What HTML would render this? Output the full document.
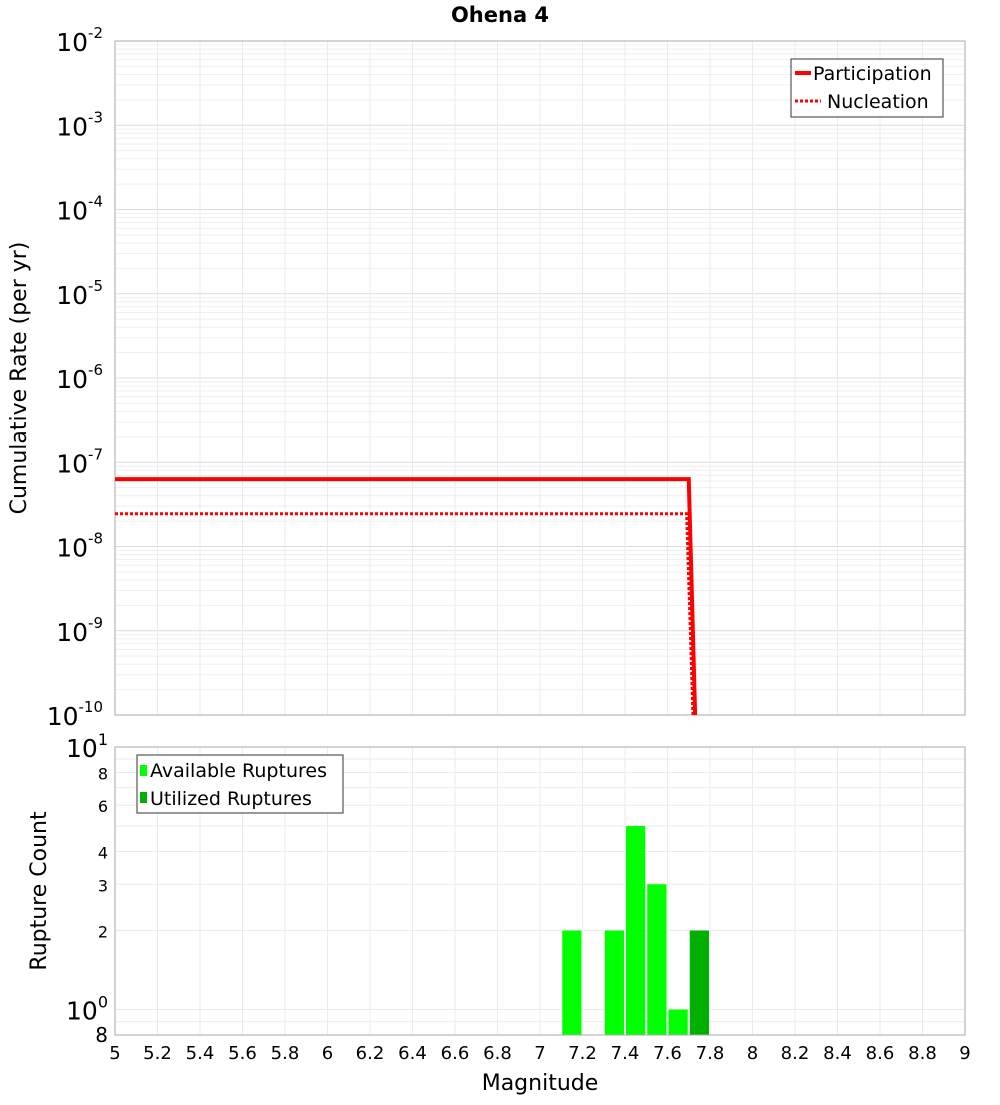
<!DOCTYPE html>
<html><head><meta charset="utf-8"><style>body{margin:0;background:#fff}svg{font-family:"DejaVu Sans","Liberation Sans",sans-serif}</style></head>
<body>
<svg id="c" width="1000" height="1100" xmlns="http://www.w3.org/2000/svg"></svg>
<script>
const xTicks=[5,5.2,5.4,5.6,5.8,6,6.2,6.4,6.6,6.8,7,7.2,7.4,7.6,7.8,8,8.2,8.4,8.6,8.8,9];
const topExp=[-2,-3,-4,-5,-6,-7,-8,-9,-10];
const partMags=[5,7.70,7.73];
const partRates=[6.3e-8,6.3e-8,1e-10];
const nuclMags=[5,7.69,7.72];
const nuclRates=[2.45e-8,2.45e-8,1e-10];
const barMags=[7.15,7.35,7.45,7.55,7.65,7.75];
const barCounts=[2,2,5,3,1,2];
const barUtil=[false,false,false,false,false,true];
const botTicks=[0.8,1,2,3,4,6,8,10];
const NS='http://www.w3.org/2000/svg',svg=document.getElementById('c');
function el(t,a,p){const e=document.createElementNS(NS,t);for(const k in a)e.setAttribute(k,a[k]);(p||svg).appendChild(e);return e;}
const X0=115,X1=965;const xs=m=>X0+(m-5)/4*(X1-X0);
const T0=41,T1=715;const ys=v=>T0+(-2-Math.log10(v))/8*(T1-T0);
const B0=747,B1=1035;const lb0=Math.log10(0.8);const yb=v=>B1-(Math.log10(v)-lb0)/(1-lb0)*(B1-B0);
// title
let t=el('text',{x:500,y:22,'text-anchor':'middle','font-size':21,'font-weight':'bold'});t.textContent='Ohena 4';

// top grid
const gTop=el('g',{stroke:'#ebebeb','stroke-width':1});

for(let e=-10;e<-2;e++)for(let k=1;k<10;k++){const y=ys(k*Math.pow(10,e));el('line',{x1:X0,x2:X1,y1:y,y2:y,stroke:k==1?'#dcdcdc':'#efefef'},gTop);}
xTicks.forEach(m=>el('line',{x1:xs(m),x2:xs(m),y1:T0,y2:T1},gTop));
let r=el('rect',{x:X0,y:T0,width:X1-X0,height:T1-T0,fill:'none',stroke:'#aaa'});

topExp.forEach(e=>{const y=ys(Math.pow(10,e));const tx=el('text',{x:103,y:y+10,'text-anchor':'end','font-size':25});
tx.textContent='10';const s=el('tspan',{dy:-13,'font-size':15},tx);s.textContent=e;});
t=el('text',{x:26,y:378,'text-anchor':'middle','font-size':22,transform:'rotate(-90 26 378)'});t.textContent='Cumulative Rate (per yr)';

function pts(ms,vs,f){return ms.map((m,i)=>xs(m)+','+f(vs[i])).join(' ');}
let p=el('polyline',{points:pts(partMags,partRates,ys),fill:'none',stroke:'#f00','stroke-width':4});

p=el('polyline',{points:pts(nuclMags,nuclRates,ys),fill:'none',stroke:'#f00','stroke-width':3,'stroke-dasharray':'3,2'});

const lg=el('g',{});
el('rect',{x:791,y:59,width:152,height:58,fill:'#fff',stroke:'#333'},lg);
el('line',{x1:795,x2:811,y1:73,y2:73,stroke:'#f00','stroke-width':4},lg);
el('line',{x1:795,x2:821,y1:101,y2:101,stroke:'#f00','stroke-width':3,'stroke-dasharray':'3,2'},lg);
t=el('text',{x:813,y:80,'font-size':19},lg);t.textContent='Participation';
t=el('text',{x:827,y:108,'font-size':19},lg);t.textContent='Nucleation';
// bottom
const gB=el('g',{stroke:'#ebebeb'});
[0.8,0.9,1,2,3,4,5,6,7,8,9,10].forEach(v=>el('line',{x1:X0,x2:X1,y1:yb(v),y2:yb(v)},gB));
xTicks.forEach(m=>el('line',{x1:xs(m),x2:xs(m),y1:B0,y2:B1},gB));
barMags.forEach((m,i)=>{const y=yb(barCounts[i]);const b=el('rect',{x:xs(m-0.05)+1,y:y,width:xs(m+0.05)-xs(m-0.05)-2,height:B1-y,fill:barUtil[i]?'#00b000':'#00ff00'});
});
r=el('rect',{x:X0,y:B0,width:X1-X0,height:B1-B0,fill:'none',stroke:'#aaa'});

botTicks.forEach(v=>{const y=yb(v);let tx;
if(v==1||v==10){tx=el('text',{x:108,y:y+10,'text-anchor':'end','font-size':25});tx.textContent='10';const s=el('tspan',{dy:-12,'font-size':16},tx);s.textContent=v==1?'0':'1';}
else{tx=el('text',{x:108,y:y+7,'text-anchor':'end','font-size':v==0.8?20:16});tx.textContent=v==0.8?'8':v;}
});
t=el('text',{x:46,y:891,'text-anchor':'middle','font-size':22,transform:'rotate(-90 46 891)'});t.textContent='Rupture Count';

const lb=el('g',{});
el('rect',{x:137,y:755,width:206,height:58,fill:'#fff',stroke:'#333'},lb);
el('rect',{x:140,y:765,width:7,height:11,fill:'#00ff00'},lb);
el('rect',{x:140,y:792,width:7,height:11,fill:'#00b000'},lb);
t=el('text',{x:150,y:777,'font-size':19},lb);t.textContent='Available Ruptures';
t=el('text',{x:150,y:805,'font-size':19},lb);t.textContent='Utilized Ruptures';
xTicks.forEach(m=>{const tx=el('text',{x:xs(m),y:1059,'text-anchor':'middle','font-size':18});tx.textContent=m;
});
t=el('text',{x:540,y:1090,'text-anchor':'middle','font-size':22});t.textContent='Magnitude';

</script>
</body></html>
